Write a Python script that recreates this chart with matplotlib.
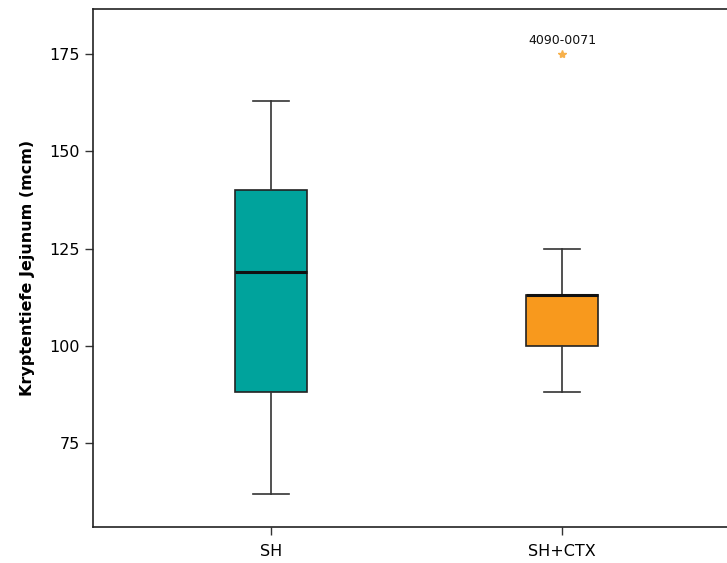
import matplotlib
matplotlib.use("Agg")
from matplotlib import pyplot as plt

# box statistics (mcm)
groups = ['SH', 'SH+CTX']
whisk_low = [62, 88]
q1 = [88, 100]
median = [119, 113]
q3 = [140, 113]
whisk_high = [163, 125]
colors = ['#00A39C', '#F8991D']

outlier_group = [2]
outlier_value = [175]
outlier_label = ['4090-0071']

plt.rcParams['font.family'] = ['DejaVu Sans']

fig = plt.figure(figsize=(7.27, 5.63), dpi=100)
W, H = 727, 563
ax = fig.add_axes([93 / W, 1 - 527 / H, (740 - 93) / W, (527 - 9) / H])

stats = []
for i, g in enumerate(groups):
    stats.append(dict(label=g, whislo=whisk_low[i], q1=q1[i], med=median[i],
                      q3=q3[i], whishi=whisk_high[i], fliers=[]))

bp = ax.bxp(stats, positions=[1, 2], widths=0.247, patch_artist=True,
            showfliers=False,
            boxprops=dict(linewidth=1.2, edgecolor='#222222'),
            medianprops=dict(color='#111111', linewidth=2.2),
            whiskerprops=dict(color='#333333', linewidth=1.2),
            capprops=dict(color='#333333', linewidth=1.2),
            capwidths=0.124)
for patch, c in zip(bp['boxes'], colors):
    patch.set_facecolor(c)

for g, v, lab in zip(outlier_group, outlier_value, outlier_label):
    ax.plot(g, v, marker='*', color='#F7B04A', markersize=6, linestyle='none')
    ax.annotate(lab, (g, v), xytext=(0, 5), textcoords='offset points',
                ha='center', va='bottom', fontsize=9, color='#111111')

ax.set_xlim(0.388, 2.612)
ax.set_ylim(53.4, 186.6)
ax.set_yticks([75, 100, 125, 150, 175])
ax.set_xticks([1, 2])
ax.set_xticklabels(groups)
ax.tick_params(axis='both', labelsize=11.5, length=6, width=1, color='#333333')
ax.tick_params(axis='x', pad=6)
ax.set_ylabel('Kryptentiefe Jejunum (mcm)', fontsize=11.5, fontweight='bold', labelpad=10)

ax.spines['right'].set_visible(False)
for s in ['left', 'top', 'bottom']:
    ax.spines[s].set_linewidth(1.2)
    ax.spines[s].set_color('#222222')

fig.savefig('out.png', dpi=100)
